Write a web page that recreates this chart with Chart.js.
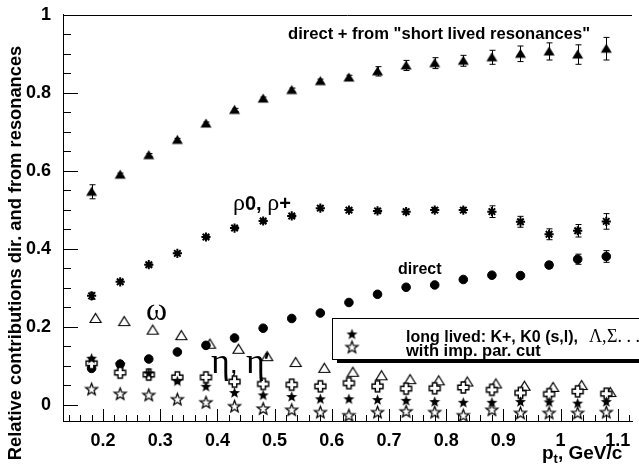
<!DOCTYPE html>
<html>
<head>
<meta charset="utf-8">
<script src="https://cdn.jsdelivr.net/npm/chart.js@4"></script>
<style>
  html, body { margin: 0; padding: 0; background: #fff; }
  canvas { display: block; }
</style>
</head>
<body>
<canvas id="myChart" width="639" height="472"></canvas>
<script>
// pt bins (GeV/c)
const ptX = [0.18, 0.23, 0.28, 0.33, 0.38, 0.43, 0.48, 0.53, 0.58, 0.63, 0.68, 0.73, 0.78, 0.83, 0.88, 0.93, 0.98, 1.03, 1.08];
// omega points are drawn slightly shifted in the original
const ptXOmega = [0.187, 0.237, 0.287, 0.337, 0.387, 0.437, 0.487, 0.537, 0.587, 0.637, 0.687, 0.737, 0.787, 0.837, 0.887, 0.937, 0.987, 1.037, 1.087];

const shortLived = [0.546, 0.590, 0.640, 0.679, 0.721, 0.756, 0.785, 0.807, 0.830, 0.839, 0.855, 0.870, 0.876, 0.882, 0.891, 0.900, 0.906, 0.898, 0.913];
const shortLivedErr = [0.018, 0.004, 0.004, 0.004, 0.004, 0.004, 0.004, 0.005, 0.005, 0.006, 0.012, 0.013, 0.014, 0.014, 0.018, 0.020, 0.022, 0.025, 0.029];
const rho = [0.279, 0.315, 0.359, 0.388, 0.430, 0.453, 0.471, 0.484, 0.504, 0.499, 0.497, 0.495, 0.499, 0.499, 0.495, 0.469, 0.437, 0.446, 0.470];
const rhoErr = [0.009, 0.004, 0.004, 0.004, 0.004, 0.004, 0.004, 0.004, 0.005, 0.005, 0.005, 0.006, 0.006, 0.006, 0.015, 0.014, 0.014, 0.016, 0.020];
const direct = [0.093, 0.104, 0.117, 0.135, 0.152, 0.171, 0.196, 0.221, 0.235, 0.262, 0.283, 0.301, 0.307, 0.321, 0.332, 0.331, 0.358, 0.373, 0.380];
const directErr = [0, 0, 0, 0, 0, 0, 0, 0, 0, 0, 0, 0, 0, 0, 0, 0, 0.008, 0.013, 0.015];
const omega = [0.221, 0.213, 0.191, 0.177, 0.155, 0.142, 0.123, 0.108, 0.093, 0.083, 0.074, 0.064, 0.061, 0.058, 0.053, 0.047, 0.044, 0.049, 0.031];
const eta = [0.106, 0.082, 0.077, 0.070, 0.070, 0.059, 0.053, 0.051, 0.047, 0.055, 0.047, 0.041, 0.042, 0.044, 0.038, 0.030, 0.027, 0.034, 0.028];
const longLived = [0.119, 0.104, 0.081, 0.061, 0.047, 0.031, 0.025, 0.021, 0.015, 0.015, 0.013, 0.011, 0.008, 0.006, 0.006, 0.008, 0.007, 0.004, 0.008];
const impCut = [0.040, 0.028, 0.025, 0.014, 0.006, -0.004, -0.010, -0.013, -0.019, -0.027, -0.019, -0.017, -0.019, -0.027, -0.013, -0.021, -0.021, -0.021, -0.019];

const xTicks = [0.2, 0.3, 0.4, 0.5, 0.6, 0.7, 0.8, 0.9, 1.0, 1.1];
const xTickLabels = ['0.2', '0.3', '0.4', '0.5', '0.6', '0.7', '0.8', '0.9', '1', '1.1'];
const yTicks = [0, 0.2, 0.4, 0.6, 0.8, 1.0];
const yTickLabels = ['0', '0.2', '0.4', '0.6', '0.8', '1'];

const SANS = '"Liberation Sans", Arial, sans-serif';
const SERIF = '"Liberation Serif", "DejaVu Serif", serif';

// ROOT-like marker images
function marker(kind) {
  const c = document.createElement('canvas');
  c.width = 17; c.height = 17;
  const g = c.getContext('2d');
  const m = 8.5;
  g.fillStyle = '#000';
  g.strokeStyle = '#000';
  g.lineWidth = 1;
  g.beginPath();
  if (kind === 'triFill' || kind === 'triOpen') {
    g.moveTo(m, m - 5);
    g.lineTo(m + 5.5, m + 4);
    g.lineTo(m - 5.5, m + 4);
    g.closePath();
    if (kind === 'triFill') g.fill();
    else { g.lineWidth = 1.2; g.stroke(); }
  } else if (kind === 'cross') {
    const a = 5.5, w = 2.2;
    const p = [[-w, -a], [w, -a], [w, -w], [a, -w], [a, w], [w, w], [w, a], [-w, a], [-w, w], [-a, w], [-a, -w], [-w, -w]];
    p.forEach((q, i) => i ? g.lineTo(m + q[0], m + q[1]) : g.moveTo(m + q[0], m + q[1]));
    g.closePath();
    g.fillStyle = '#fff';
    g.fill();
    g.lineWidth = 1.4;
    g.stroke();
  } else if (kind === 'starFill' || kind === 'starOpen') {
    const ro = kind === 'starFill' ? 5.8 : 6.3, ri = ro * 0.42;
    for (let i = 0; i < 10; i++) {
      const r = i % 2 ? ri : ro;
      const ang = -Math.PI / 2 + i * Math.PI / 5;
      const px = m + r * Math.cos(ang), py = m + 0.5 + r * Math.sin(ang);
      i ? g.lineTo(px, py) : g.moveTo(px, py);
    }
    g.closePath();
    if (kind === 'starFill') g.fill();
    else { g.fillStyle = '#fff'; g.fill(); g.lineWidth = 1.25; g.stroke(); }
  }
  return c;
}

const mk = {
  triFill: marker('triFill'),
  triOpen: marker('triOpen'),
  cross: marker('cross'),
  starFill: marker('starFill'),
  starOpen: marker('starOpen')
};

function pts(xs, ys) {
  return xs.map((x, i) => ({ x: x, y: ys[i] }));
}

// error bars, inward axis ticks, frame, legend and labels
const decorPlugin = {
  id: 'decor',
  afterDatasetsDraw(chart) {
    const ctx = chart.ctx;
    const xs = chart.scales.x, ys = chart.scales.y;
    ctx.save();
    ctx.strokeStyle = '#000';
    ctx.lineWidth = 1;
    chart.data.datasets.forEach((ds) => {
      if (!ds.errs) return;
      ds.data.forEach((p, i) => {
        const e = ds.errs[i];
        if (!e) return;
        const px = Math.round(xs.getPixelForValue(p.x)) + 0.5;
        const y1 = ys.getPixelForValue(p.y + e), y2 = ys.getPixelForValue(p.y - e);
        ctx.beginPath();
        ctx.moveTo(px, y1); ctx.lineTo(px, y2);
        ctx.moveTo(px - 3, y1); ctx.lineTo(px + 3, y1);
        ctx.moveTo(px - 3, y2); ctx.lineTo(px + 3, y2);
        ctx.stroke();
      });
    });
    ctx.restore();
  },
  afterDraw(chart) {
    const ctx = chart.ctx;
    const a = chart.chartArea;
    const xs = chart.scales.x, ys = chart.scales.y;
    ctx.save();
    ctx.strokeStyle = '#000';
    ctx.lineWidth = 1;
    // top frame line
    ctx.beginPath();
    ctx.moveTo(a.left, Math.round(a.top) + 0.5);
    ctx.lineTo(a.right, Math.round(a.top) + 0.5);
    ctx.stroke();
    // y ticks (inward)
    ctx.beginPath();
    for (let k = 0; k <= 20; k++) {
      const v = k * 0.05;
      const py = Math.round(ys.getPixelForValue(v)) + 0.5;
      const len = k % 4 === 0 ? 15 : 8;
      ctx.moveTo(a.left, py); ctx.lineTo(a.left + len, py);
    }
    // x ticks (inward)
    for (let k = 7; k <= 56; k++) {
      const v = k * 0.02;
      if (v > xs.max) break;
      const px = Math.round(xs.getPixelForValue(v)) + 0.5;
      const len = k % 5 === 0 ? 12 : 6;
      ctx.moveTo(px, a.bottom); ctx.lineTo(px, a.bottom - len);
    }
    ctx.stroke();

    // legend box
    const lx = 332, ly = 318, lw = 320, lh = 41;
    ctx.fillStyle = '#000';
    ctx.fillRect(lx + 5, ly + lh, lw, 4);
    ctx.fillStyle = '#fff';
    ctx.fillRect(lx, ly, lw, lh);
    ctx.strokeRect(lx + 0.5, ly + 0.5, lw, lh);
    ctx.drawImage(mk.starFill, 352 - 8.5, 334 - 8.5);
    ctx.drawImage(mk.starOpen, 352 - 8.5, 347 - 8.5);
    ctx.fillStyle = '#000';
    ctx.textBaseline = 'alphabetic';
    ctx.font = 'bold 16px ' + SANS;
    ctx.fillText('long lived: K+, K0 (s,l),', 406, 342);
    ctx.font = '18px ' + SERIF;
    ctx.fillText('\u039B,', 589, 342);
    ctx.fillText('\u03A3. . .', 607, 342);
    ctx.font = 'bold 16.5px ' + SANS;
    ctx.fillText('with imp. par. cut', 406, 356);

    // labels in plot
    ctx.font = 'bold 16.6px ' + SANS;
    ctx.fillText('direct + from "short lived resonances"', 288, 39);
    ctx.font = 'bold 16px ' + SANS;
    ctx.fillText('direct', 398, 274);

    // rho0, rho+
    let x = 233;
    ctx.font = '24px ' + SERIF;
    ctx.fillText('\u03C1', x, 210);
    x += ctx.measureText('\u03C1').width;
    ctx.font = 'bold 20px ' + SANS;
    ctx.fillText('0, ', x, 210);
    x += ctx.measureText('0, ').width;
    ctx.font = '24px ' + SERIF;
    ctx.fillText('\u03C1', x, 210);
    x += ctx.measureText('\u03C1').width;
    ctx.font = 'bold 20px ' + SANS;
    ctx.fillText('+', x, 210);

    // omega
    ctx.font = '32px ' + SERIF;
    ctx.fillText('\u03C9', 146, 320);

    // eta, eta'
    ctx.font = '36px ' + SERIF;
    ctx.fillText('\u03B7', 211, 373);
    ctx.font = 'bold 20px ' + SANS;
    ctx.fillText(',', 231, 373);
    ctx.font = '36px ' + SERIF;
    ctx.fillText('\u03B7', 246, 373);
    ctx.font = 'bold 22px ' + SANS;
    ctx.fillText('\u2032', 264, 368);

    // axis titles
    ctx.font = 'bold 19px ' + SANS;
    ctx.fillText('p', 542, 459);
    const pw = ctx.measureText('p').width;
    ctx.font = 'bold 13px ' + SANS;
    ctx.fillText('t', 542 + pw, 463);
    const tw = ctx.measureText('t').width;
    ctx.font = 'bold 19px ' + SANS;
    ctx.fillText(', GeV/c', 542 + pw + tw, 459);

    ctx.save();
    ctx.translate(21, 253);
    ctx.rotate(-Math.PI / 2);
    ctx.textAlign = 'center';
    ctx.font = 'bold 18.3px ' + SANS;
    ctx.fillText('Relative contributions dir. and from resonances', 0, 0);
    ctx.restore();

    ctx.restore();
  }
};

window.onload = function () {
  const ctx = document.getElementById('myChart').getContext('2d');
  const myChart = new Chart(ctx, {
    type: 'scatter',
    data: {
      datasets: [
        { label: 'impcut', data: pts(ptX, impCut), pointStyle: mk.starOpen },
        { label: 'longlived', data: pts(ptX, longLived), pointStyle: mk.starFill },
        { label: 'eta', data: pts(ptX, eta), pointStyle: mk.cross },
        { label: 'omega', data: pts(ptXOmega, omega), pointStyle: mk.triOpen },
        { label: 'direct', data: pts(ptX, direct), errs: directErr, pointStyle: 'circle', pointRadius: 4.3, backgroundColor: '#000', borderColor: '#000' },
        { label: 'rho', data: pts(ptX, rho), errs: rhoErr, pointStyle: 'star', pointRadius: 4.6, borderWidth: 2, borderColor: '#000' },
        { label: 'short', data: pts(ptX, shortLived), errs: shortLivedErr, pointStyle: mk.triFill }
      ]
    },
    options: {
      responsive: false,
      animation: false,
      layout: { padding: { top: 12, right: 0, left: 0, bottom: 0 } },
      plugins: {
        legend: { display: false },
        tooltip: { enabled: false }
      },
      elements: {
        point: { radius: 5, hoverRadius: 5, borderColor: '#000', backgroundColor: '#000' }
      },
      scales: {
        x: {
          type: 'linear',
          min: 0.13,
          max: 1.125,
          afterBuildTicks: (s) => { s.ticks = xTicks.map((v) => ({ value: v })); },
          afterFit: (s) => { s.height = 51; },
          grid: { display: false },
          border: { display: true, color: '#000', width: 1 },
          ticks: {
            color: '#000',
            padding: 1,
            maxRotation: 0,
            autoSkip: false,
            font: { family: SANS, size: 18, weight: 'bold' },
            callback: (v, i) => xTickLabels[i]
          }
        },
        y: {
          min: -0.042,
          max: 1.0,
          afterBuildTicks: (s) => { s.ticks = yTicks.map((v) => ({ value: v })); },
          afterFit: (s) => { s.width = 63; },
          grid: { display: false },
          border: { display: true, color: '#000', width: 1 },
          ticks: {
            color: '#000',
            padding: 4,
            autoSkip: false,
            font: { family: SANS, size: 18, weight: 'bold' },
            callback: (v, i) => yTickLabels[i]
          }
        }
      }
    },
    plugins: [decorPlugin]
  });
};
</script>
</body>
</html>
